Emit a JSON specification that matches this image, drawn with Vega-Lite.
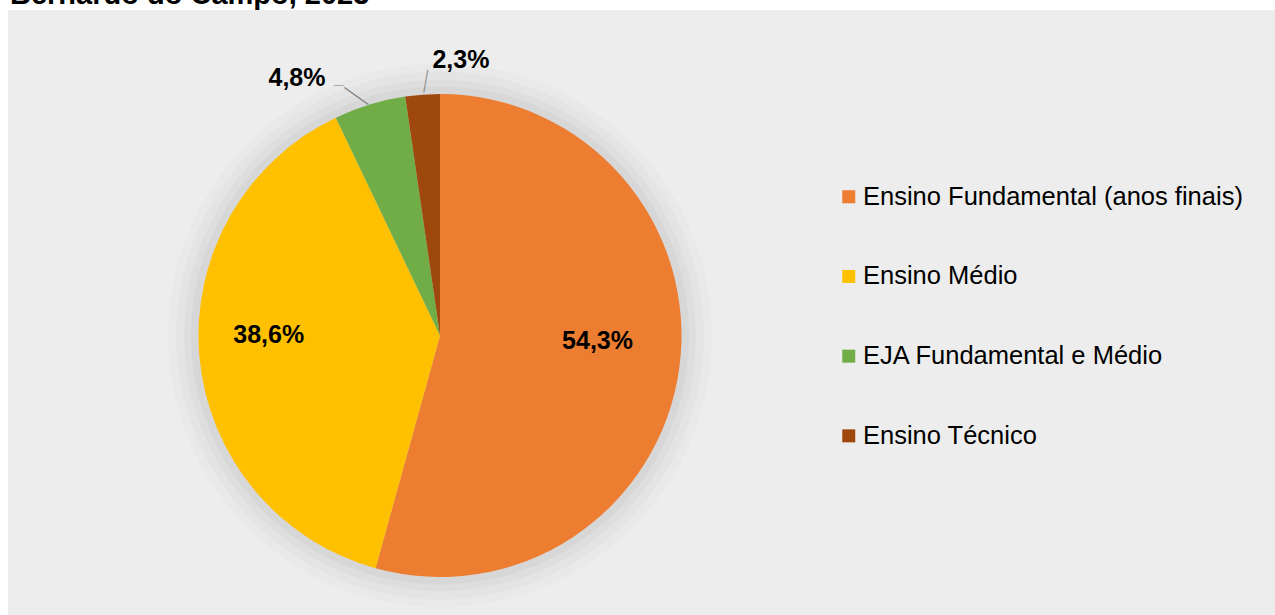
{
  "$schema": "https://vega.github.io/schema/vega-lite/v6.json",
  "background": "#FFFFFF",
  "padding": {"left": 8, "top": -19, "right": 0, "bottom": -46},
  "autosize": {"type": "pad"},
  "spacing": 0,
  "title": {
    "text": "Bernardo do Campo, 2023",
    "anchor": "start",
    "frame": "group",
    "offset": 0,
    "dx": 2,
    "font": "Liberation Sans",
    "fontSize": 29,
    "fontWeight": "bold",
    "color": "#000000"
  },
  "datasets": {
    "pie": [
      {"cat": "Ensino Fundamental (anos finais)", "value": 54.3, "label": "54,3%", "idx": 1},
      {"cat": "Ensino Médio", "value": 38.6, "label": "38,6%", "idx": 2},
      {"cat": "EJA Fundamental e Médio", "value": 4.8, "label": "4,8%", "idx": 3},
      {"cat": "Ensino Técnico", "value": 2.3, "label": "2,3%", "idx": 4}
    ]
  },
  "config": {
    "view": {"fill": "#EDEDED", "stroke": null},
    "text": {"font": "Liberation Sans"}
  },
  "hconcat": [
    {
      "width": 864,
      "height": 651,
      "view": {"fill": "#EDEDED", "stroke": null},
      "layer": [
        {"data": {"values": [{}]}, "mark": {"type": "arc", "radius": 272, "fill": "#000000", "opacity": 0.016}, "encoding": {}},
        {"data": {"values": [{}]}, "mark": {"type": "arc", "radius": 264, "fill": "#000000", "opacity": 0.02}, "encoding": {}},
        {"data": {"values": [{}]}, "mark": {"type": "arc", "radius": 256, "fill": "#000000", "opacity": 0.024}, "encoding": {}},
        {"data": {"values": [{}]}, "mark": {"type": "arc", "radius": 249, "fill": "#000000", "opacity": 0.028}, "encoding": {}},
        {
          "data": {"name": "pie"},
          "mark": {"type": "arc", "radius": 241.5},
          "encoding": {
            "theta": {"field": "value", "type": "quantitative", "stack": true},
            "order": {"field": "idx", "type": "quantitative"},
            "color": {
              "field": "cat",
              "type": "nominal",
              "scale": {
                "domain": ["Ensino Fundamental (anos finais)", "Ensino Médio", "EJA Fundamental e Médio", "Ensino Técnico"],
                "range": ["#ED7D31", "#FFC000", "#70AD47", "#9E480E"]
              },
              "legend": {
                "orient": "none",
                "legendX": 828,
                "legendY": 174,
                "title": null,
                "symbolType": "square",
                "symbolSize": 169,
                "symbolStrokeWidth": 0,
                "labelFont": "Liberation Sans",
                "labelFontSize": 25.5,
                "labelColor": "#000000",
                "labelLimit": 600,
                "labelOffset": 1.5,
                "rowPadding": 52.7
              }
            }
          }
        },
        {
          "data": {"name": "pie"},
          "mark": {"type": "text", "radius": 159, "dy": -16, "fontSize": 25, "fontWeight": "bold", "color": "#000000"},
          "encoding": {
            "theta": {"field": "value", "type": "quantitative", "stack": true},
            "order": {"field": "idx", "type": "quantitative"},
            "detail": {"field": "cat", "type": "nominal"},
            "text": {"field": "label", "type": "nominal"},
            "opacity": {"condition": {"test": "datum.idx == 1", "value": 1}, "value": 0}
          }
        },
        {
          "data": {"name": "pie"},
          "mark": {"type": "text", "radius": 172, "dy": -16, "fontSize": 25, "fontWeight": "bold", "color": "#000000"},
          "encoding": {
            "theta": {"field": "value", "type": "quantitative", "stack": true},
            "order": {"field": "idx", "type": "quantitative"},
            "detail": {"field": "cat", "type": "nominal"},
            "text": {"field": "label", "type": "nominal"},
            "opacity": {"condition": {"test": "datum.idx == 2", "value": 1}, "value": 0}
          }
        },
        {
          "data": {"name": "pie"},
          "mark": {"type": "text", "radius": 294.5, "thetaOffset": -0.2117, "fontSize": 25, "fontWeight": "bold", "color": "#000000"},
          "encoding": {
            "theta": {"field": "value", "type": "quantitative", "stack": true},
            "order": {"field": "idx", "type": "quantitative"},
            "detail": {"field": "cat", "type": "nominal"},
            "text": {"field": "label", "type": "nominal"},
            "opacity": {"condition": {"test": "datum.idx == 3", "value": 1}, "value": 0}
          }
        },
        {
          "data": {"name": "pie"},
          "mark": {"type": "text", "radius": 276, "thetaOffset": 0.148, "fontSize": 25, "fontWeight": "bold", "color": "#000000"},
          "encoding": {
            "theta": {"field": "value", "type": "quantitative", "stack": true},
            "order": {"field": "idx", "type": "quantitative"},
            "detail": {"field": "cat", "type": "nominal"},
            "text": {"field": "label", "type": "nominal"},
            "opacity": {"condition": {"test": "datum.idx == 4", "value": 1}, "value": 0}
          }
        },
        {
          "data": {"name": "pie"},
          "mark": {"type": "text", "text": "—", "radius": 254.4, "thetaOffset": -0.037, "angle": 35.6, "fontSize": 32, "font": "Noto Sans", "fontWeight": 200, "color": "#808080"},
          "encoding": {
            "theta": {"field": "value", "type": "quantitative", "stack": true},
            "order": {"field": "idx", "type": "quantitative"},
            "detail": {"field": "cat", "type": "nominal"},
            "opacity": {"condition": {"test": "datum.idx == 3", "value": 1}, "value": 0}
          }
        },
        {
          "data": {"name": "pie"},
          "mark": {"type": "text", "text": "—", "radius": 269.6, "thetaOffset": -0.0899, "angle": 0, "fontSize": 11, "font": "Noto Sans", "fontWeight": 200, "color": "#808080"},
          "encoding": {
            "theta": {"field": "value", "type": "quantitative", "stack": true},
            "order": {"field": "idx", "type": "quantitative"},
            "detail": {"field": "cat", "type": "nominal"},
            "opacity": {"condition": {"test": "datum.idx == 3", "value": 1}, "value": 0}
          }
        },
        {
          "data": {"name": "pie"},
          "mark": {"type": "text", "text": "—", "radius": 255.2, "thetaOffset": 0.0115, "angle": -80, "fontSize": 25, "font": "Noto Sans", "fontWeight": 200, "color": "#808080"},
          "encoding": {
            "theta": {"field": "value", "type": "quantitative", "stack": true},
            "order": {"field": "idx", "type": "quantitative"},
            "detail": {"field": "cat", "type": "nominal"},
            "opacity": {"condition": {"test": "datum.idx == 4", "value": 1}, "value": 0}
          }
        }
      ]
    },
    {
      "width": 403,
      "height": 651,
      "view": {"fill": "#EDEDED", "stroke": null},
      "data": {"name": "pie"},
      "mark": {"type": "point", "opacity": 0},
      "encoding": {}
    }
  ]
}
